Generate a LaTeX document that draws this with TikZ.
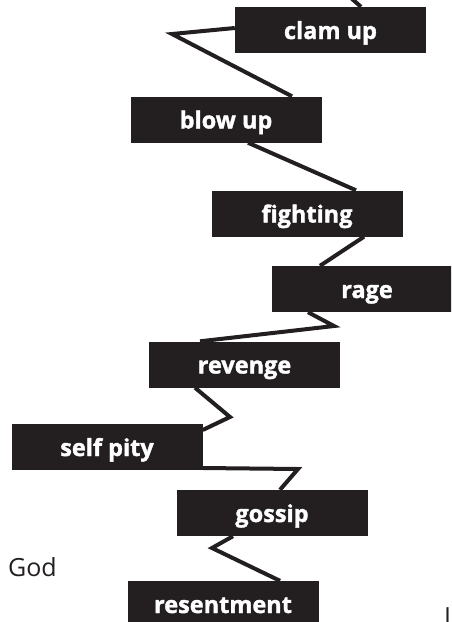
\documentclass[tikz,border=0pt]{standalone}
\usepackage{fontspec}
\setmainfont{Open Sans}[BoldFeatures={FakeBold=1.5}]
\definecolor{ink}{HTML}{231F20}
\begin{document}
\begin{tikzpicture}[x=1pt,y=-1pt,
  box/.style={fill=ink,text=white,inner sep=0pt,minimum width=191pt,
    text height=32pt,text depth=14pt,align=center,
    font=\fontsize{23.5}{23.5}\selectfont\bfseries},
  link/.style={draw=ink,line width=4pt,line join=miter},
  plain/.style={inner sep=0pt,anchor=base west,text=ink,
    font=\fontsize{25}{25}\selectfont}]
\useasboundingbox (0,0) rectangle (451,622);
\clip (0,0) rectangle (451,622);
\node[box] (clam) at (330.5,30) {clam up};
\node[box] (blow) at (226,119.5) {blow up};
\node[box] (fight) at (307,213.5) {fighting};
\node[box] (rage) at (367,289) {rage};
\node[box] (revenge) at (244.5,364.5) {revenge};
\node[box] (selfpity) at (107,447) {self pity};
\node[box] (gossip) at (272,513) {gossip};
\node[box] (resent) at (223,604) {resentment};
\node[plain] (god) at (8,576) {God};
\node[plain] (l) at (444,625) {L};
\coordinate (top) at (351,-2);
\coordinate (b1) at (172,34);
\coordinate (b5) at (334,326);
\coordinate (b6) at (230,417);
\coordinate (b7) at (298,469);
\coordinate (b8) at (212,548);
\draw[link] (top) -- ([xshift=30.5pt]clam.north);
\draw[link] ([yshift=2pt]clam.west) -- (b1) -- ([xshift=66pt]blow.north);
\draw[link] ([xshift=22pt]blow.south) -- ([xshift=49pt]fight.north);
\draw[link] ([xshift=57pt]fight.south) -- ([xshift=-47pt]rage.north);
\draw[link] ([xshift=-59pt]rage.south) -- (b5) -- ([xshift=-44.5pt]revenge.north);
\draw[link] ([xshift=-49.5pt]revenge.south) -- (b6) -- ([yshift=17pt]selfpity.east);
\draw[link] ([yshift=-21pt]selfpity.east) -- (b7) -- ([xshift=8pt]gossip.north);
\draw[link] ([xshift=-39pt]gossip.south) -- (b8) -- ([xshift=57pt]resent.north);
\end{tikzpicture}
\end{document}
